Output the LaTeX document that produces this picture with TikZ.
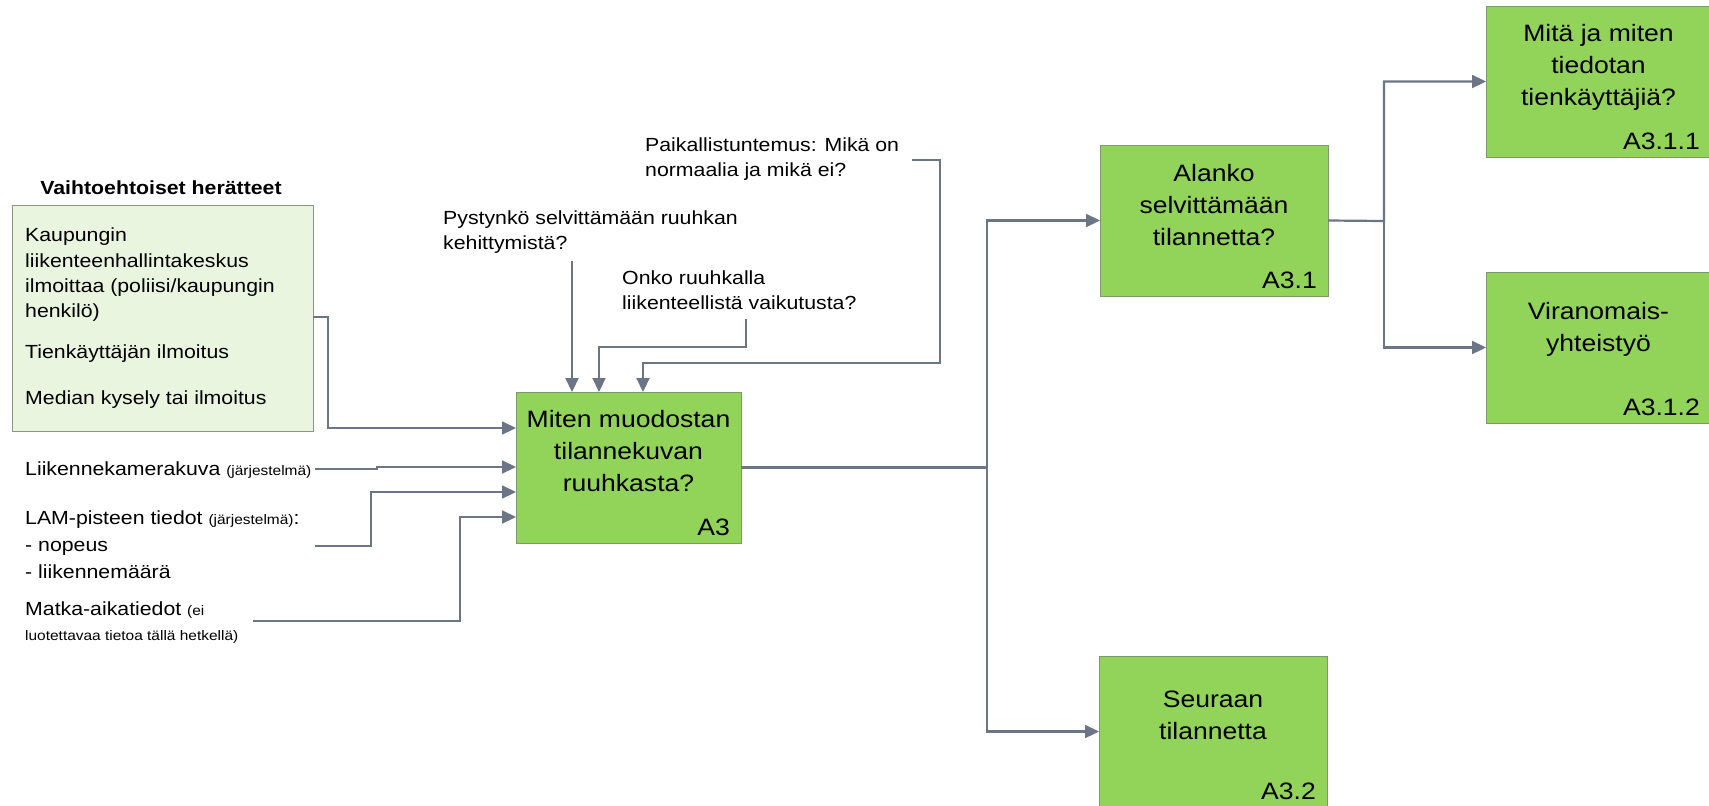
\documentclass[tikz,border=0pt]{standalone}
\usepackage{fontspec}
\setmainfont{Liberation Sans}[FakeStretch=1.12]
\usetikzlibrary{arrows.meta}
\definecolor{gfill}{HTML}{92D35A}
\definecolor{gdraw}{HTML}{7E9A6A}
\definecolor{lfill}{HTML}{EAF5DF}
\definecolor{ldraw}{HTML}{8C9585}
\definecolor{conncol}{HTML}{6B7585}
\newcommand{\bodyfs}{\fontsize{19}{25.3}\selectfont}
\newcommand{\smallfs}{\fontsize{13.8}{17}\selectfont}
\newcommand{\boxfs}{\fontsize{23.7}{32}\selectfont}
\begin{document}
\begin{tikzpicture}[x=1pt,y=-1pt,
 gbox/.style={draw=gdraw, fill=gfill, line width=1pt, inner sep=0pt, outer sep=0pt, anchor=north west, minimum height=151pt},
 btext/.style={font=\boxfs, align=center, inner sep=0pt},
 blabel/.style={font=\boxfs, inner sep=0pt, anchor=base east},
 txt/.style={font=\bodyfs, align=left, inner sep=0pt, anchor=west},
 conn/.style={draw=conncol, line width=2.2pt, -{Triangle[length=14pt,width=13pt]}}]
\fill[white] (0,0) rectangle (1709,806);
\clip (0,0) rectangle (1709,806);

% left trigger box
\node[font=\bfseries\bodyfs, inner sep=0pt] (title) at (161,188) {Vaihtoehtoiset herätteet};
\node[draw=ldraw, fill=lfill, line width=1pt, inner sep=0pt, anchor=north west,
      minimum width=301pt, minimum height=226pt] (vb) at (12,205) {};
\node[txt] (k1) at (25,275) {Kaupungin\\liikenteenhallintakeskus\\ilmoittaa (poliisi/kaupungin\\henkilö)};
\node[txt] (k2) at (25,354) {Tienkäyttäjän ilmoitus};
\node[txt] (k3) at (25,400) {Median kysely tai ilmoitus};

% left inputs
\node[txt] (lk) at (25,470) {Liikennekamerakuva {\smallfs (järjestelmä)}};
\node[txt, font=\fontsize{19}{27}\selectfont] (lam) at (25,545) {LAM-pisteen tiedot {\smallfs (järjestelmä)}:\\- nopeus\\- liikennemäärä};
\node[txt] (m1) at (25,610) {Matka-aikatiedot {\smallfs (ei}};
\node[txt, font=\smallfs] (m2) at (25,637) {luotettavaa tietoa tällä hetkellä)};

% top inputs
\node[txt] (pyst) at (443,232) {Pystynkö selvittämään ruuhkan\\kehittymistä?};
\node[txt] (onko) at (622,290) {Onko ruuhkalla\\liikenteellistä vaikutusta?};
\node[txt] (paik) at (645,159) {Paikallistuntemus: Mikä on\\normaalia ja mikä ei?};

% activity boxes
\node[gbox, minimum width=225pt] (a3) at (516,392) {};
\node[btext] (a3t) at ([yshift=-59pt]a3.north) {Miten muodostan\\tilannekuvan\\ruuhkasta?};
\node[blabel] (a3l) at ([xshift=-11pt,yshift=8pt]a3.south east) {A3};

\node[gbox, minimum width=228pt] (a31) at (1100,145) {};
\node[btext] (a31t) at ([yshift=-60pt]a31.north) {Alanko\\selvittämään\\tilannetta?};
\node[blabel] (a31l) at ([xshift=-11pt,yshift=8pt]a31.south east) {A3.1};

\node[gbox, minimum width=228pt] (a32) at (1099,656) {};
\node[btext] (a32t) at ([yshift=-59pt]a32.north) {Seuraan\\tilannetta};
\node[blabel] (a32l) at ([xshift=-11pt,yshift=8pt]a32.south east) {A3.2};

\node[gbox, minimum width=225pt] (a311) at (1486,6) {};
\node[btext] (a311t) at ([yshift=-61pt]a311.north) {Mitä ja miten\\tiedotan\\tienkäyttäjiä?};
\node[blabel] (a311l) at ([xshift=-11pt,yshift=8pt]a311.south east) {A3.1.1};

\node[gbox, minimum width=225pt] (a312) at (1486,272) {};
\node[btext] (a312t) at ([yshift=-57pt]a312.north) {Viranomais-\\yhteistyö};
\node[blabel] (a312l) at ([xshift=-11pt,yshift=8pt]a312.south east) {A3.1.2};

% connector free ends
\coordinate (s1) at (313,317);
\coordinate (s2) at (315,469);
\coordinate (s3) at (315,546);
\coordinate (s4) at (253,621);
\coordinate (s5) at (572,261);
\coordinate (s6) at (746,319);
\coordinate (s7) at (912,160);

% connectors into A3
\draw[conn] (s1) -- (328,317) |- (a3.west |- 0,428);
\draw[conn] (s2) -- (377,469) -- (377,467) -- (a3.west |- 0,467);
\draw[conn] (s3) -- (371,546) |- (a3.west |- 0,492);
\draw[conn] (s4) -- (460,621) |- (a3.west |- 0,517);
\draw[conn] (s5) -- (s5 |- a3.north);
\draw[conn] (s6) -- (746,347) -| (599,392);
\draw[conn] (s7) -- (940,160) -- (940,363) -| (643,392);

% outputs
\draw[conn] (a3.east) -- (987,467.5) coordinate (j1) |- (a31.west);
\draw[conn] (j1) |- (a32.west);
\draw[conn] (a31.east) -- (1384,221) coordinate (j2) |- (a311.west);
\draw[conn] (j2) |- (a312.west);
\end{tikzpicture}
\end{document}
